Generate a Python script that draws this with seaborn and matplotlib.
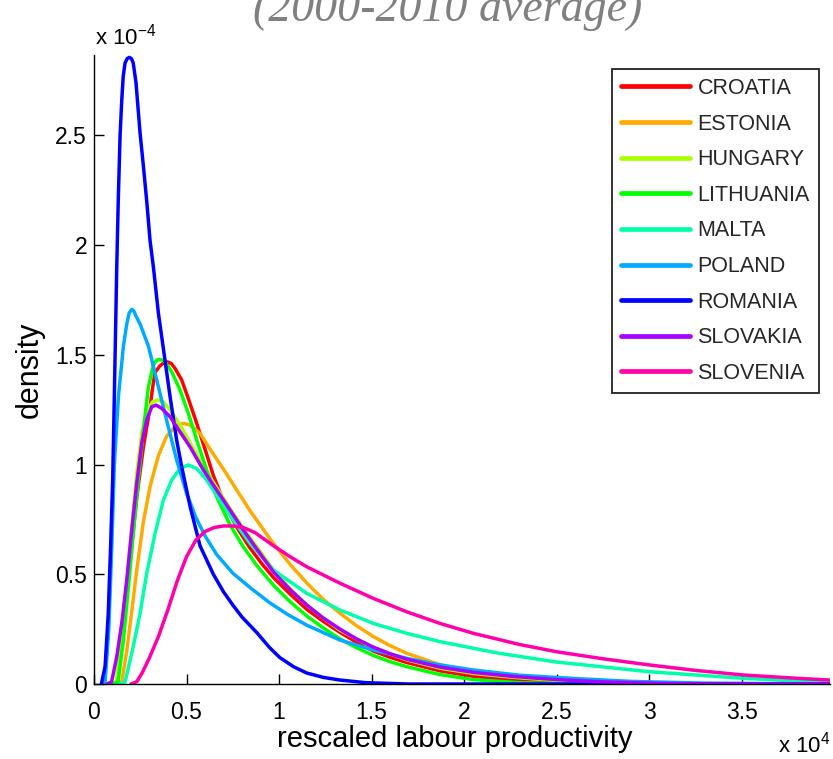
import matplotlib
matplotlib.use("Agg")
import matplotlib.pyplot as plt
import numpy as np
import pandas as pd
import seaborn as sns
from matplotlib.ticker import FormatStrFormatter

# x values in units of 1e4, density values in units of 1e-4
countries = ["CROATIA", "ESTONIA", "HUNGARY", "LITHUANIA", "MALTA",
             "POLAND", "ROMANIA", "SLOVAKIA", "SLOVENIA"]
colors = ["#FF0000", "#FFAA00", "#AAFF00", "#00FF00", "#00FFAA",
          "#00AAFF", "#0000FF", "#AA00FF", "#FF00AA"]

croatia_x = [0.10, 0.126, 0.15, 0.177, 0.204, 0.231, 0.267, 0.303, 0.315, 0.33, 0.357, 0.375, 0.396, 0.418, 0.438,
             0.474, 0.51, 0.555, 0.60, 0.645, 0.699, 0.771, 0.843, 0.91, 0.97, 1.06, 1.15, 1.24, 1.33, 1.42, 1.51,
             1.6, 1.69, 1.87, 2.05, 2.3, 2.6, 3.0, 3.98]
croatia_y = [0.0, 0.01, 0.17, 0.40, 0.63, 0.85, 1.08, 1.26, 1.34, 1.42, 1.45, 1.462, 1.468, 1.46, 1.438,
             1.385, 1.30, 1.188, 1.07, 0.95, 0.835, 0.715, 0.62, 0.545, 0.485, 0.41, 0.34, 0.285, 0.235, 0.19, 0.15,
             0.122, 0.098, 0.06, 0.035, 0.015, 0.004, 0.0, 0.0]

estonia_x = [0.12, 0.15, 0.177, 0.204, 0.231, 0.267, 0.303, 0.348, 0.393, 0.438, 0.483, 0.519, 0.573, 0.627, 0.699,
             0.771, 0.843, 0.91, 0.97, 1.06, 1.15, 1.24, 1.33, 1.42, 1.51, 1.6, 1.69, 1.87, 2.05, 2.2, 2.5, 2.8,
             3.2, 3.98]
estonia_y = [0.0, 0.01, 0.15, 0.33, 0.52, 0.74, 0.90, 1.04, 1.13, 1.172, 1.188, 1.18, 1.142, 1.07, 0.98,
             0.884, 0.79, 0.71, 0.64, 0.545, 0.46, 0.385, 0.322, 0.265, 0.216, 0.175, 0.14, 0.088, 0.056, 0.04, 0.02,
             0.009, 0.002, 0.0]

hungary_x = [0.10, 0.12, 0.15, 0.177, 0.204, 0.231, 0.258, 0.285, 0.315, 0.345, 0.375, 0.411, 0.465, 0.519, 0.591,
             0.663, 0.735, 0.807, 0.88, 0.97, 1.06, 1.15, 1.24, 1.33, 1.51, 1.69, 1.87, 2.05, 2.27, 2.5, 2.8, 3.2,
             3.98]
hungary_y = [0.0, 0.01, 0.22, 0.45, 0.72, 0.96, 1.14, 1.24, 1.285, 1.295, 1.285, 1.25, 1.18, 1.10, 0.99,
             0.895, 0.80, 0.71, 0.625, 0.52, 0.435, 0.36, 0.30, 0.245, 0.165, 0.11, 0.072, 0.048, 0.03, 0.016, 0.005,
             0.0, 0.0]

lithuania_x = [0.10, 0.13, 0.159, 0.186, 0.212, 0.24, 0.267, 0.294, 0.321, 0.335, 0.348, 0.365, 0.384, 0.42, 0.465,
               0.51, 0.555, 0.609, 0.663, 0.735, 0.807, 0.88, 0.97, 1.06, 1.15, 1.24, 1.33, 1.42, 1.51, 1.6, 1.69,
               1.87, 2.05, 2.3, 2.6, 3.98]
lithuania_y = [0.0, 0.01, 0.20, 0.443, 0.686, 0.929, 1.157, 1.354, 1.453, 1.472, 1.479, 1.477, 1.468, 1.423, 1.34,
               1.233, 1.112, 0.975, 0.853, 0.725, 0.625, 0.54, 0.45, 0.375, 0.31, 0.255, 0.205, 0.165, 0.13, 0.102,
               0.079, 0.043, 0.02, 0.006, 0.0, 0.0]

malta_x = [0.14, 0.168, 0.212, 0.249, 0.285, 0.33, 0.375, 0.42, 0.465, 0.51, 0.555, 0.609, 0.681, 0.753,
           0.843, 0.97, 1.15, 1.33, 1.51, 1.69, 1.87, 2.05, 2.19, 2.5, 3.0, 3.51, 3.98]
malta_y = [0.0, 0.01, 0.17, 0.322, 0.504, 0.686, 0.838, 0.929, 0.982, 0.998, 0.982, 0.929, 0.838, 0.747,
           0.641, 0.519, 0.413, 0.337, 0.276, 0.231, 0.193, 0.163, 0.14, 0.10, 0.056, 0.026, 0.006]

poland_x = [0.05, 0.06, 0.08, 0.095, 0.11, 0.132, 0.159, 0.177, 0.19, 0.204, 0.215, 0.225, 0.249, 0.294, 0.339,
            0.393, 0.447, 0.50, 0.55, 0.60, 0.663, 0.75, 0.85, 0.95, 1.05, 1.15, 1.33, 1.51, 1.69, 1.87, 2.05,
            2.3, 2.6, 2.9, 3.3, 3.98]
poland_y = [0.0, 0.01, 0.25, 0.6, 1.0, 1.31, 1.54, 1.64, 1.69, 1.707, 1.70, 1.68, 1.64, 1.54, 1.385,
            1.20, 1.02, 0.87, 0.76, 0.675, 0.59, 0.505, 0.435, 0.37, 0.315, 0.268, 0.20, 0.155, 0.117, 0.087, 0.064,
            0.04, 0.025, 0.012, 0.004, 0.0]

romania_x = [0.04, 0.06, 0.077, 0.090, 0.101, 0.108, 0.115, 0.123, 0.131, 0.141, 0.150, 0.158, 0.168, 0.180, 0.191,
             0.202, 0.212, 0.227, 0.249, 0.267, 0.285, 0.303, 0.321, 0.348, 0.378, 0.411, 0.447, 0.474, 0.519, 0.573,
             0.645, 0.70, 0.75, 0.80, 0.879, 0.95, 1.005, 1.08, 1.15, 1.24, 1.33, 1.47, 1.7, 2.0, 3.98]
romania_y = [0.0, 0.08, 0.32, 0.63, 0.93, 1.23, 1.54, 1.90, 2.20, 2.50, 2.66, 2.77, 2.83, 2.85, 2.855,
             2.85, 2.83, 2.74, 2.51, 2.36, 2.20, 2.02, 1.90, 1.69, 1.51, 1.31, 1.11, 0.99, 0.81, 0.63,
             0.50, 0.42, 0.36, 0.305, 0.235, 0.165, 0.12, 0.078, 0.05, 0.03, 0.018, 0.006, 0.0, 0.0, 0.0]

slovakia_x = [0.07, 0.095, 0.123, 0.15, 0.177, 0.204, 0.231, 0.258, 0.285, 0.312, 0.335, 0.366, 0.411, 0.465, 0.519,
              0.591, 0.663, 0.735, 0.807, 0.88, 0.97, 1.06, 1.15, 1.24, 1.33, 1.42, 1.51, 1.6, 1.69, 1.87, 2.05, 2.27,
              2.5, 2.74, 3.0, 3.3, 3.98]
slovakia_y = [0.0, 0.01, 0.124, 0.277, 0.474, 0.702, 0.914, 1.097, 1.203, 1.263, 1.271, 1.256, 1.218, 1.149, 1.081,
              0.975, 0.884, 0.793, 0.702, 0.615, 0.51, 0.43, 0.36, 0.30, 0.25, 0.205, 0.168, 0.138, 0.113, 0.077,
              0.053, 0.034, 0.02, 0.01, 0.004, 0.0, 0.0]

slovenia_x = [0.20, 0.231, 0.26, 0.30, 0.35, 0.40, 0.45, 0.50, 0.55, 0.60, 0.65, 0.70, 0.753, 0.807, 0.87, 0.97,
              1.06, 1.15, 1.33, 1.51, 1.69, 1.87, 2.05, 2.3, 2.5, 2.75, 3.0, 3.25, 3.51, 3.8, 3.98]
slovenia_y = [0.0, 0.01, 0.05, 0.12, 0.22, 0.34, 0.47, 0.58, 0.655, 0.695, 0.713, 0.72, 0.72, 0.713, 0.69, 0.63,
              0.58, 0.534, 0.459, 0.39, 0.329, 0.276, 0.231, 0.18, 0.147, 0.115, 0.087, 0.062, 0.041, 0.026, 0.018]

xticks = [0, 0.5, 1, 1.5, 2, 2.5, 3, 3.5]
yticks = [0, 0.5, 1, 1.5, 2, 2.5]

series_x = [croatia_x, estonia_x, hungary_x, lithuania_x, malta_x, poland_x, romania_x, slovakia_x, slovenia_x]
series_y = [croatia_y, estonia_y, hungary_y, lithuania_y, malta_y, poland_y, romania_y, slovakia_y, slovenia_y]

df = pd.concat([pd.DataFrame({"x": xs, "y": ys, "country": c})
                for c, xs, ys in zip(countries, series_x, series_y)], ignore_index=True)

sns.set_style("ticks")
plt.rcParams["font.family"] = ["Liberation Sans", "DejaVu Sans"]
plt.rcParams["mathtext.fontset"] = "custom"
plt.rcParams["mathtext.rm"] = "Liberation Sans"
plt.rcParams["mathtext.it"] = "Liberation Sans:italic"

W, H = 833, 759
fig = plt.figure(figsize=(W / 100, H / 100), dpi=100)
ax = fig.add_axes([94 / W, 75 / H, 736 / W, 629 / H])

sns.lineplot(data=df, x="x", y="y", hue="country", hue_order=countries,
             palette=dict(zip(countries, colors)), estimator=None, sort=False,
             lw=2.5, ax=ax)

ax.set_xlim(0, 3.978)
ax.set_ylim(0, 2.866)
ax.set_xticks(xticks)
ax.set_yticks(yticks)
ax.xaxis.set_major_formatter(FormatStrFormatter("%g"))
ax.yaxis.set_major_formatter(FormatStrFormatter("%g"))
for s in ["top", "right"]:
    ax.spines[s].set_visible(False)
for s in ["left", "bottom"]:
    ax.spines[s].set_color("black")
    ax.spines[s].set_linewidth(1.0)
ax.tick_params(axis="both", direction="in", length=7, width=1, color="black",
               labelsize=16.5, labelcolor="black")
ax.tick_params(axis="x", pad=12)
ax.tick_params(axis="y", pad=5)

ax.set_xlabel("rescaled labour productivity", fontsize=21, color="black")
ax.xaxis.label.set_verticalalignment("baseline")
ax.xaxis.set_label_coords(0.49, -(747 - 684) / 629)
ax.set_ylabel("density", fontsize=22, color="black")
ax.yaxis.label.set_verticalalignment("center")
ax.yaxis.set_label_coords(-(94 - 30) / 736, 0.5)

handles, labels = ax.get_legend_handles_labels()
leg = ax.legend(handles, labels, loc="upper right", bbox_to_anchor=(0.985, 0.978),
                borderaxespad=0, fontsize=15.5, handlelength=3.2, handletextpad=0.35,
                labelspacing=0.68, borderpad=0.42, frameon=True, fancybox=False,
                framealpha=1, edgecolor="#222222")
leg.get_frame().set_linewidth(1.3)
for ln in leg.get_lines():
    ln.set_linewidth(3.4)

fig.text(448 / W, 1 - 21 / H, "(2000-2010 average)", ha="center", va="baseline",
         fontsize=33, style="italic", family="Liberation Serif", color="#808080")
fig.text(95 / W, 1 - 45 / H, r"x 10$^{-4}$", ha="left", va="baseline", fontsize=16, color="black")
fig.text(830 / W, 1 - 752 / H, r"x 10$^{4}$", ha="right", va="baseline", fontsize=16, color="black")

fig.savefig("out.png", dpi=100)
